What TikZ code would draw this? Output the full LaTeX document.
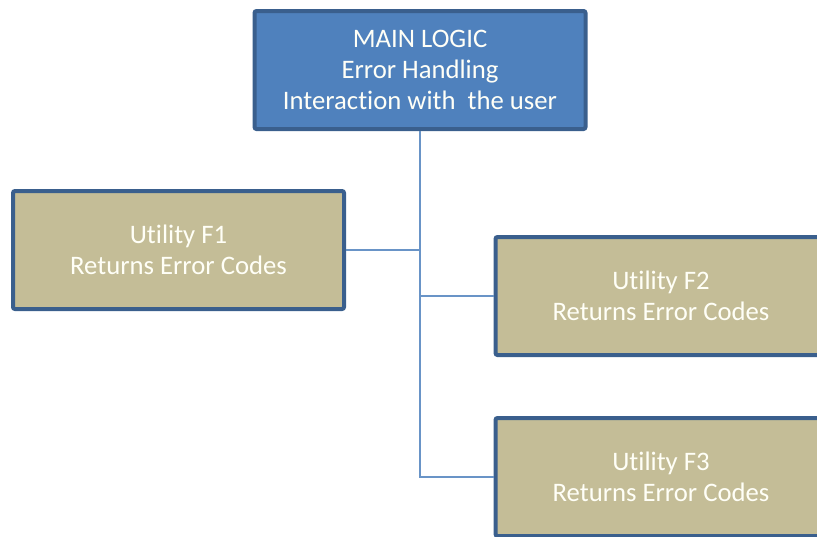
\documentclass[tikz,border=0pt]{standalone}
\usepackage{fontspec}
\setmainfont[Ligatures=NoCommon]{Carlito}
\usepackage{xcolor}
\usepackage{tikz}
\definecolor{mainblue}{HTML}{4F81BD}
\definecolor{edgeblue}{HTML}{3A5F8D}
\definecolor{tan}{HTML}{C4BD97}

\begin{document}
\begin{tikzpicture}[x=1pt,y=-1pt,
  box/.style={draw=edgeblue,line width=4pt,rounded corners=2pt,minimum width=331pt,minimum height=118pt,
    align=center,text=white!97!yellow,font=\fontsize{26.7}{31}\selectfont,inner sep=0pt},
  link/.style={draw=mainblue!85,line width=1.5pt}]
\useasboundingbox (0,0) rectangle (817,536);
  \node[box,fill=mainblue] (main)   at (420,70)  {MAIN LOGIC\\Error Handling\\Interaction with\ \ the user};
  \node[box,fill=tan]      (fone)   at (178.5,250) {Utility F1\\Returns Error Codes};
  \node[box,fill=tan]      (ftwo)   at (661,296) {Utility F2\\Returns Error Codes};
  \node[box,fill=tan]      (fthree) at (661,477) {Utility F3\\Returns Error Codes};

  \path[link]
		(fone.east) -| (main.south)
		(main.south) |- (ftwo.west)
		(main.south) |- (fthree.west);

\end{tikzpicture}
\end{document}
